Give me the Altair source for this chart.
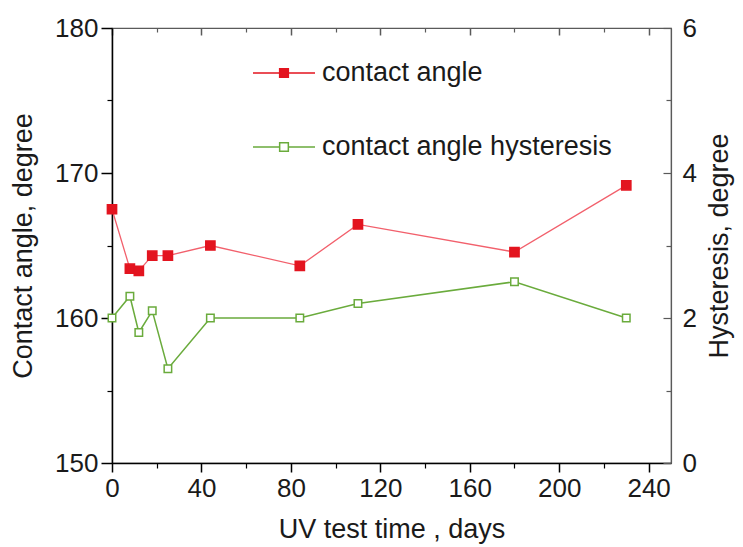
import altair as alt
import pandas as pd

# ---- data ----
days = [0, 8, 12, 18, 25, 44, 84, 110, 180, 230]
contact_angle = [167.5, 163.4, 163.25, 164.3, 164.3, 165.0, 163.6, 166.45, 164.55, 169.15]
hysteresis = [2.0, 2.3, 1.8, 2.1, 1.3, 2.0, 2.0, 2.2, 2.5, 2.0]
series_names = ["contact angle", "contact angle hysteresis"]

x_major = [0, 40, 80, 120, 160, 200, 240]
x_minor = [20, 60, 100, 140, 180, 220]
left_major = [150, 160, 170, 180]
left_minor = [155, 165, 175]
right_major = [0, 2, 4, 6]
right_minor = [1, 3, 5]

df = pd.DataFrame({
    "day": days + days,
    "value": contact_angle + hysteresis,
    "series": [series_names[0]] * len(days) + [series_names[1]] * len(days),
})

FONT = "Liberation Sans"
TXT = "#1a1a1a"
RED = "#e3141f"
RED_LINE = "#f2606c"
GREEN = "#6aab3c"
FRAME = "#5a5a5a"

xscale = alt.Scale(domain=[0, 250], nice=False, zero=False)
lscale = alt.Scale(domain=[150, 180], nice=False, zero=False)
rscale = alt.Scale(domain=[0, 6], nice=False, zero=False)

legend = alt.Legend(
    orient="none", legendX=140, legendY=13, title=None, padding=0,
    symbolType="M-1,0H-0.15M0.15,0H1M-0.14,-0.14H0.14V0.14H-0.14Z",
    symbolSize=3844, symbolStrokeWidth=1.5, symbolOpacity=1,
    labelFont=FONT, labelFontSize=27, labelColor=TXT, labelOffset=6,
    labelLimit=500, rowPadding=29,
)
stroke_enc = alt.Stroke("series:N", scale=alt.Scale(domain=series_names, range=[RED, GREEN]), legend=legend)
fill_enc = alt.Fill("series:N", scale=alt.Scale(domain=series_names, range=[RED, "white"]), legend=legend)

base = alt.Chart(df)
ca = base.transform_filter(alt.datum.series == series_names[0])
hy = base.transform_filter(alt.datum.series == series_names[1])

lab = dict(labelFont=FONT, labelFontSize=26, labelColor=TXT)
tit = dict(titleFont=FONT, titleFontSize=27, titleColor=TXT, titleFontWeight="normal")

# bottom major axis + left major axis, with the contact-angle line
l1 = ca.mark_line(color=RED_LINE, strokeWidth=1.3).encode(
    x=alt.X("day:Q", scale=xscale, axis=alt.Axis(
        orient="bottom", values=x_major, tickSize=9, tickWidth=1.5, tickColor="black",
        domainColor="black", domainWidth=1.5, labelPadding=3, grid=False,
        labelFlush=False, labelOverlap=False, title="UV test time , days",
        titlePadding=15, **lab, **tit)),
    y=alt.Y("value:Q", scale=lscale, axis=alt.Axis(
        orient="left", values=left_major, tickSize=11, tickWidth=1.5, tickColor="black",
        domainColor="black", domainWidth=1.5, labelPadding=3, grid=False,
        labelFlush=False, labelOverlap=False, title="Contact angle, degree",
        titlePadding=17, **lab, **tit)),
)
l2 = ca.mark_square(size=85, filled=True, strokeWidth=1.5, opacity=1).encode(
    x=alt.X("day:Q", scale=xscale, axis=None),
    y=alt.Y("value:Q", scale=lscale, axis=None),
    stroke=stroke_enc, fill=fill_enc,
)
# hysteresis line + top major inward ticks + right labelled axis
l3 = hy.mark_line(color=GREEN, strokeWidth=1.5).encode(
    x=alt.X("day:Q", scale=xscale, axis=alt.Axis(
        orient="top", values=x_major, tickSize=7, offset=-7, tickWidth=1.5,
        tickColor=FRAME, domain=False, labels=False, grid=False, title=None)),
    y=alt.Y("value:Q", scale=rscale, axis=alt.Axis(
        orient="right", values=right_major, ticks=False, domainColor=FRAME,
        domainWidth=1.2, labelPadding=11, grid=False, labelFlush=False,
        labelOverlap=False, title="Hysteresis, degree", titleAngle=270,
        titleBaseline="top", titlePadding=10, **lab, **tit)),
)
l4 = hy.mark_square(size=56, filled=True, strokeWidth=1.5, opacity=1).encode(
    x=alt.X("day:Q", scale=xscale, axis=None),
    y=alt.Y("value:Q", scale=rscale, axis=None),
    stroke=stroke_enc, fill=fill_enc,
)
# minor ticks: bottom and left
l5 = ca.mark_point(opacity=0).encode(
    x=alt.X("day:Q", scale=xscale, axis=alt.Axis(
        orient="bottom", values=x_minor, tickSize=5, tickWidth=1.2, tickColor="black",
        domain=False, labels=False, grid=False, title=None)),
    y=alt.Y("value:Q", scale=lscale, axis=alt.Axis(
        orient="left", values=left_minor, tickSize=5, tickWidth=1.2, tickColor="black",
        domain=False, labels=False, grid=False, title=None)),
)
# top minor inward + right major inward
l6 = hy.mark_point(opacity=0).encode(
    x=alt.X("day:Q", scale=xscale, axis=alt.Axis(
        orient="top", values=x_minor, tickSize=4, offset=-4, tickWidth=1.2,
        tickColor=FRAME, domain=False, labels=False, grid=False, title=None)),
    y=alt.Y("value:Q", scale=rscale, axis=alt.Axis(
        orient="right", values=right_major, tickSize=8, offset=-8, tickWidth=1.2,
        tickColor=FRAME, domain=False, labels=False, grid=False, title=None)),
)
# right minor inward
l7 = hy.mark_point(opacity=0).encode(
    x=alt.X("day:Q", scale=xscale, axis=None),
    y=alt.Y("value:Q", scale=rscale, axis=alt.Axis(
        orient="right", values=right_minor, tickSize=5, offset=-5, tickWidth=1.2,
        tickColor=FRAME, domain=False, labels=False, grid=False, title=None)),
)

chart = alt.layer(l1, l3, l5, l6, l7, l2, l4).resolve_scale(
    x="independent", y="independent"
).properties(
    width=559, height=435,
    autosize=alt.AutoSizeParams(type="none"),
    padding={"left": 104, "top": 20, "right": 64, "bottom": 84},
).configure_view(stroke=FRAME, strokeWidth=1.2)

chart.save("out.html", embed_options={"renderer": "svg", "actions": False})
